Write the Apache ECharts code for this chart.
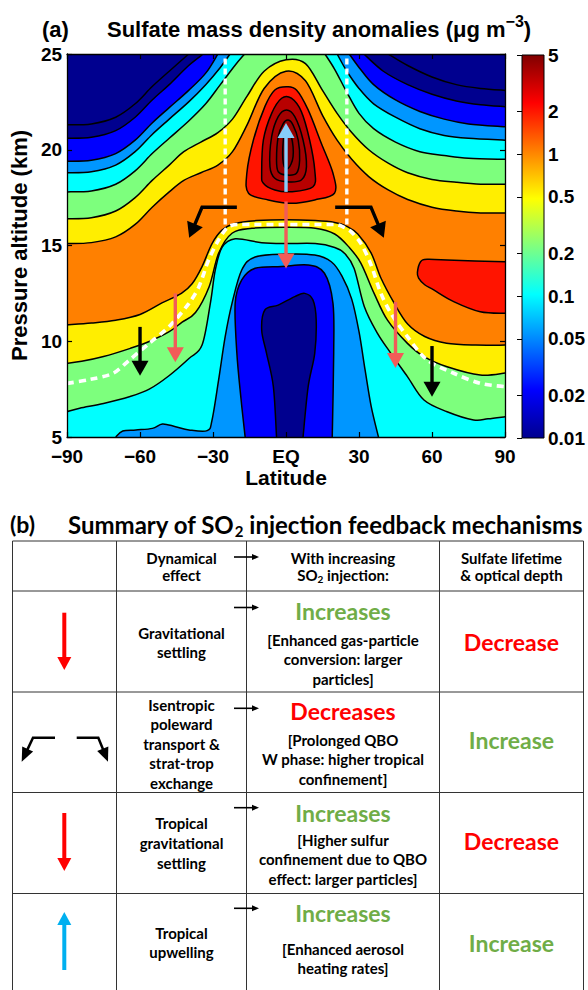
<!DOCTYPE html>
<html><head><meta charset="utf-8">
<script src="https://cdn.jsdelivr.net/npm/echarts@6/dist/echarts.min.js"></script>
<style>html,body{margin:0;padding:0;background:#fff}#c{width:588px;height:990px}</style>
</head><body><div id="c"></div>
<script>
// ---------------- DATA ----------------
const latTicks = [-90, -60, -30, 0, 30, 60, 90];
const latTickLabels = ['\u221290', '\u221260', '\u221230', 'EQ', '30', '60', '90'];
const altTicks = [5, 10, 15, 20, 25];
const cbTicks = [0.01, 0.02, 0.05, 0.1, 0.2, 0.5, 1, 2, 5];
const cbTickLabels = ['0.01', '0.02', '0.05', '0.1', '0.2', '0.5', '1', '2', '5'];
const contourLevels = [0.01, 0.02, 0.05, 0.1, 0.2, 0.5, 1, 2, 3, 4, 5, 6];

// upper (stratospheric) contours, [lat, alt km]
const upperA_L = [[-90,21.3],[-80,21.35],[-70,21.7],[-62,22.4],[-55,23.3],[-48,24.1],[-40,25]];
const upperA_R = [[42,25],[50,24.4],[60,23.8],[70,23.4],[80,23.2],[90,23.1]];
const upperB_L = [[-90,20.6],[-80,20.65],[-70,21.0],[-62,21.7],[-55,22.6],[-48,23.4],[-40,24.4],[-34,25]];
const upperB_R = [[32,25],[40,24.1],[50,23.4],[60,22.9],[70,22.55],[80,22.35],[90,22.25]];
const upperC_L = [[-90,19.4],[-80,19.45],[-70,19.8],[-62,20.5],[-55,21.4],[-48,22.2],[-40,23.1],[-33,24.0],[-28,25]];
const upperC_R = [[26,25],[30,24.3],[36,23.4],[45,22.6],[55,22.0],[65,21.6],[75,21.35],[90,21.2]];
const upperD_L = [[-90,18.8],[-80,18.85],[-70,19.2],[-62,19.9],[-55,20.8],[-48,21.6],[-40,22.5],[-33,23.4],[-27,24.3],[-23,25]];
const upperD_R = [[21,25],[25,24.1],[30,23.2],[36,22.4],[45,21.7],[55,21.1],[65,20.75],[75,20.6],[90,20.5]];
const upperE_L = [[-90,17.8],[-80,17.85],[-70,18.2],[-62,18.9],[-55,19.8],[-48,20.6],[-40,21.5],[-33,22.4],[-27,23.4],[-21,24.4],[-17,25]];
const upperE_R = [[16,25],[20,24.2],[25,23.0],[30,21.9],[36,21.1],[45,20.4],[55,19.9],[65,19.7],[75,19.55],[90,19.5]];
const upperF = [[-90,16.4],[-80,16.45],[-70,16.8],[-62,17.5],[-55,18.4],[-48,19.2],[-42,19.9],[-35,20.4],[-28,20.9],[-22,21.6],[-16,22.8],[-9,24.1],[0,24.7],[8,24.5],[15,23.1],[21,21.9],[27,20.9],[34,20.0],[42,19.3],[50,18.8],[60,18.45],[70,18.3],[80,18.2],[90,18.2]];
const upperG = [[-90,15.1],[-80,15.15],[-70,15.45],[-62,16.1],[-55,17.0],[-48,17.8],[-42,18.4],[-35,18.8],[-28,19.2],[-22,19.9],[-16,21.3],[-9,23.2],[0,24.1],[8,23.6],[15,21.8],[21,20.5],[27,19.5],[34,18.6],[42,17.9],[50,17.4],[60,17.0],[70,16.8],[80,16.7],[90,16.7]];

// lower (tropospheric) contours
const lowerG = [[-90,10.85],[-80,10.95],[-70,11.1],[-60,11.4],[-51,12.0],[-43,12.5],[-38.6,13.0],[-34.5,13.9],[-30.4,15.1],[-26.3,15.8],[-21,16.15],[-12,16.3],[0,16.35],[12,16.3],[20,16.2],[25,16.0],[29.5,15.6],[35,14.6],[39,13.3],[44.4,12.0],[50,10.9],[57,10.25],[66,9.9],[78,9.8],[90,9.8]];
const lowerF = [[-90,8.85],[-84,8.95],[-75,9.2],[-64,9.63],[-56,10.0],[-48,10.5],[-42.7,11.0],[-37.2,11.5],[-31.6,12.85],[-27.7,14.59],[-22.2,15.64],[-14,15.9],[0,15.95],[12,15.9],[20,15.6],[26,14.9],[30.8,14.07],[36.2,12.5],[41.7,11.1],[49.9,9.89],[56.7,9.2],[66.2,8.67],[79.8,8.24],[90,8.34]];
const lowerE = [[-90,6.32],[-84.8,6.5],[-75,6.75],[-64.4,7.1],[-56.2,7.5],[-48.1,8.2],[-39.9,9.1],[-34.5,9.8],[-31.1,11.98],[-29.1,13.7],[-26.3,14.9],[-20.9,15.35],[-10,15.15],[0,15.1],[12,15.1],[20,14.9],[24,14.6],[28,13.8],[32.2,11.8],[37.6,10.41],[43.1,9.37],[49.9,8.15],[56.7,6.93],[66.2,6.32],[77.1,5.89],[83,5.95],[90,6.06]];
const lowerD = [[-70,5],[-67.1,5.31],[-61.7,5.37],[-54.9,5.45],[-50.8,5.68],[-45.4,5.54],[-39.9,5.37],[-32.4,5.33],[-30.4,5.89],[-27.7,7.98],[-25,10.24],[-22.2,11.98],[-18.2,13.72],[-12.7,14.4],[0,14.55],[11.8,14.5],[18.6,14.15],[23,13.4],[27,12.2],[30,10.5],[32.5,8.5],[35,6.6],[38,5]];
const lowerC = [[-16.8,5],[-18.5,7],[-20.2,9.37],[-20.9,11.98],[-18.2,13.2],[-12.7,13.81],[-1.8,13.9],[9.1,13.98],[15.8,13.55],[19.3,11.98],[19.6,9.4],[19,5]];
const lowerB = [[-3.9,5],[-5.2,7.63],[-8.0,9.37],[-10.0,10.59],[-8.7,11.63],[-3.2,11.89],[3.6,12.33],[7.7,12.5],[11.1,12.15],[12.4,11.11],[11.8,9.37],[9.1,7.63],[7.0,5]];

// closed maxima
const blobNH = [[90,14.15],[66.2,14.24],[58,14.28],[55.3,14.15],[54,13.6],[54.5,13.3],[57,12.95],[60.7,12.68],[68.9,12.07],[79.8,11.54],[90,11.46]];
const blobEq2 = [[-15.4,17.73],[-16.1,18.77],[-13.4,20.51],[-8.7,22.25],[-4.6,23.12],[0.2,23.29],[4.3,23.12],[9.1,22.08],[14.5,20.34],[19.3,18.77],[19.9,17.73],[11.8,17.38],[2.2,17.2],[-7.3,17.38]];
const blobEq3 = [[-10,18.77],[-9.3,20.51],[-5.9,21.9],[-1.8,22.69],[2.2,22.69],[6.3,21.99],[9.7,20.51],[11.8,18.94],[11.1,18.07],[2.2,17.81],[-4.6,17.9],[-9.3,18.25]];
const blobEq4 = [[-6.6,19.12],[-5.9,20.68],[-3.2,21.73],[0.2,22.08],[3.6,21.73],[7.0,20.51],[8.4,19.12],[6.3,18.42],[0.2,18.33],[-4.6,18.51]];
const blobEq5 = [[-3.9,19.46],[-3.2,20.68],[-1.1,21.38],[0.9,21.55],[2.9,21.29],[5.0,20.51],[5.6,19.46],[4.3,18.77],[0.2,18.68],[-3.2,18.85]];
const blobEq6 = [[-1.1,20.51],[0.2,21.03],[2.2,20.68],[2.9,19.64],[0.9,19.03],[-1.1,19.29]];

// tropopause and tropical pipe
const tropopause = [[-90,7.8],[-80.7,8.0],[-71,8.33],[-64.4,9.02],[-56.2,9.89],[-48.1,10.76],[-39.9,11.98],[-35.8,12.85],[-31.8,14.24],[-27.7,15.29],[-24,15.95],[-20,16.1],[0,16.1],[20,16.1],[23,16.0],[26.5,15.75],[30.8,15.1],[34.9,14.0],[39,12.5],[43.1,11.46],[49.9,10.24],[58,9.02],[68.9,8.33],[79.8,7.8],[90,7.63]];
const pipeSouth = [[-25,16.1],[-25,25]];
const pipeNorth = [[25,16.1],[25,25]];

// transport arrows [lat, alt]
const upwellingArrow = [[0,17.8],[0,21.4]];
const tropSettlingArrow = [[0,17.3],[0,13.8]];
const midSettlingArrows = [[[-45.5,12.5],[-45.5,8.9]], [[45,12.05],[45,8.6]]];
const stExchangeArrows = [[[-60,10.75],[-60,8.2]], [[60,9.75],[60,7.1]]];
const polewardArrows = [[[-20.2,17],[-34.5,17],[-39.8,15.4]], [[20.2,17],[34.9,17],[40.2,15.4]]];

// table (b)
const tableHeader = [['Dynamical', 'effect'], ['With increasing', 'SO\u2082 injection:'], ['Sulfate lifetime', '& optical depth']];
const tableEffects = [['Gravitational', 'settling'], ['Isentropic', 'poleward', 'transport &', 'strat-trop', 'exchange'], ['Tropical', 'gravitational', 'settling'], ['Tropical', 'upwelling']];
const tableChange = ['Increases', 'Decreases', 'Increases', 'Increases'];
const tableDetails = [['[Enhanced gas-particle', 'conversion: larger', 'particles]'], ['[Prolonged QBO', 'W phase: higher tropical', 'confinement]'], ['[Higher sulfur', 'confinement due to QBO', 'effect: larger particles]'], ['[Enhanced aerosol', 'heating rates]']];
const tableLifetime = ['Decrease', 'Increase', 'Decrease', 'Increase'];

// ---------------- STYLE / LAYOUT ----------------
const FA = '"Liberation Sans", Arial, Helvetica, sans-serif';
const FB = 'Lato, "Open Sans", sans-serif';
const XMIN = -90, XMAX = 90, YMIN = 5, YMAX = 25;
const CB_MIN = Math.log10(0.01), CB_MAX = Math.log10(5);
const bandColor = {0:'#00008f',0.01:'#00008f',0.02:'#0000ff',0.05:'#0096ff',0.1:'#00ffff',0.2:'#7dff7d',0.5:'#ffee00',1:'#ff8000',2:'#ff1400',3:'#b80000',4:'#a40000',5:'#960000',6:'#8a0000'};
const GREEN = '#70ad47', RED = '#ff0000';

const fillLayers = [
  {c: upperG, side: 'above', band: 0.5}, {c: upperF, side: 'above', band: 0.2},
  {c: upperE_L, side: 'above', band: 0.1}, {c: upperE_R, side: 'above', band: 0.1},
  {c: upperD_L, side: 'above', band: 0.05}, {c: upperD_R, side: 'above', band: 0.05},
  {c: upperC_L, side: 'above', band: 0.02}, {c: upperC_R, side: 'above', band: 0.02},
  {c: upperB_L, side: 'above', band: 0.01}, {c: upperB_R, side: 'above', band: 0.01},
  {c: upperA_L, side: 'above', band: 0}, {c: upperA_R, side: 'above', band: 0},
  {c: lowerG, side: 'below', band: 0.5}, {c: lowerF, side: 'below', band: 0.2},
  {c: lowerE, side: 'below', band: 0.1}, {c: lowerD, side: 'below', band: 0.05},
  {c: lowerC, side: 'below', band: 0.02}, {c: lowerB, side: 'below', band: 0.01},
  {c: blobNH, side: 'edge', band: 2},
  {c: blobEq2, side: 'loop', band: 2}, {c: blobEq3, side: 'loop', band: 3},
  {c: blobEq4, side: 'loop', band: 4}, {c: blobEq5, side: 'loop', band: 5},
  {c: blobEq6, side: 'loop', band: 6}
];

function crPath(P, closed) {
  const n = P.length;
  const g = i => closed ? P[(i + n) % n] : P[Math.max(0, Math.min(n - 1, i))];
  let d = 'M' + P[0][0].toFixed(2) + ',' + P[0][1].toFixed(2);
  const segs = closed ? n : n - 1;
  for (let i = 0; i < segs; i++) {
    const p0 = g(i - 1), p1 = g(i), p2 = g(i + 1), p3 = g(i + 2);
    const t = 1 / 6;
    const c1 = [p1[0] + (p2[0] - p0[0]) * t, p1[1] + (p2[1] - p0[1]) * t];
    const c2 = [p2[0] - (p3[0] - p1[0]) * t, p2[1] - (p3[1] - p1[1]) * t];
    d += ' C' + c1[0].toFixed(2) + ',' + c1[1].toFixed(2) + ' ' + c2[0].toFixed(2) + ',' + c2[1].toFixed(2) + ' ' + p2[0].toFixed(2) + ',' + p2[1].toFixed(2);
  }
  if (closed) d += ' Z';
  return d;
}
function layerPaths(L, api) {
  const P = L.c.map(p => api.coord(p));
  if (L.side === 'loop') { const d = crPath(P, true); return {fill: d, stroke: d}; }
  const line = crPath(P, false);
  const first = L.c[0], last = L.c[L.c.length - 1];
  const extra = [];
  if (L.side === 'above') {
    if (last[0] >= XMAX && last[1] < YMAX) extra.push([XMAX, YMAX]);
    if (first[0] <= XMIN && first[1] < YMAX) extra.push([XMIN, YMAX]);
  } else if (L.side === 'below') {
    if (last[0] >= XMAX && last[1] > YMIN) extra.push([XMAX, YMIN]);
    if (first[0] <= XMIN && first[1] > YMIN) extra.push([XMIN, YMIN]);
  }
  let fill = line;
  extra.forEach(e => { const q = api.coord(e); fill += ' L' + q[0].toFixed(2) + ',' + q[1].toFixed(2); });
  fill += ' Z';
  return {fill, stroke: line};
}

function arrowEls(P, shaftW, headW, headL, color) {
  const n = P.length, tip = P[n - 1], prev = P[n - 2];
  let dx = tip[0] - prev[0], dy = tip[1] - prev[1];
  const len = Math.hypot(dx, dy); dx /= len; dy /= len;
  const base = [tip[0] - dx * headL, tip[1] - dy * headL];
  const inner = [tip[0] - dx * (headL - 2), tip[1] - dy * (headL - 2)];
  const px = -dy, py = dx;
  return [
    {type: 'polyline', shape: {points: P.slice(0, n - 1).concat([inner])}, style: {stroke: color, lineWidth: shaftW, fill: 'none', lineJoin: 'miter'}},
    {type: 'polygon', shape: {points: [tip, [base[0] + px * headW / 2, base[1] + py * headW / 2], [base[0] - px * headW / 2, base[1] - py * headW / 2]]}, style: {fill: color}}
  ];
}

const plotArrows = [
  {p: upwellingArrow, color: '#87cefa'},
  {p: tropSettlingArrow, color: '#f25c58'},
  ...midSettlingArrows.map(p => ({p, color: '#f25c58'})),
  ...stExchangeArrows.map(p => ({p, color: '#000'})),
  ...polewardArrows.map(p => ({p, color: '#000'}))
];

const axisCommon = {
  axisLine: {show: true, onZero: false, lineStyle: {color: '#000', width: 1.3}},
  axisTick: {show: true, inside: true, length: 5, lineStyle: {color: '#000', width: 1.2}},
  splitLine: {show: false}, z: 10
};
const tickFont = {fontSize: 19, fontWeight: 'bold', fontFamily: FA, color: '#000'};

// ---------------- TABLE GRAPHICS ----------------
const T = {xs: [12.5, 116.5, 246.5, 439.5, 583.5], ys: [541, 591, 692, 792.5, 893.5], bottom: 995};
const colC = [64.5, 181.5, 343, 511.5];
const headerY = [558, 575];
const changeY = [610.7, 710.7, 813.3, 913.3];
const effectY = [[632.7, 651.7], [705, 724.3, 744, 763.3, 782.7], [823.3, 843.3, 862.7], [933.3, 952.3]];
const detailY = [[640, 659.3, 679.3], [740, 759.3, 778.7], [840, 859.3, 879], [949.3, 968.3]];
const lifetimeY = [642.3, 740, 841, 943.3];
const smallArrowY = [557, 607.5, 708.3, 807.7, 908.3];

const G = [];
function txt(x, y, text, size, color, extra) {
  G.push(Object.assign({type: 'text', x, y, style: Object.assign({text, fontSize: size, fontWeight: 'bold', fontFamily: FB, fill: color || '#000', align: 'center', verticalAlign: 'middle'}, extra || {})}));
}
// titles
G.push({type: 'text', x: 42, y: 29, style: {text: '(a)', fontSize: 22, fontWeight: 'bold', fontFamily: FA, fill: '#000', verticalAlign: 'middle'}});
G.push({type: 'text', x: 107, y: 29, style: {text: '{n|Sulfate mass density anomalies (\u03bcg m}{s|\u22123}{n|)}', verticalAlign: 'middle',
  rich: {n: {fontSize: 22, fontWeight: 'bold', fontFamily: FA, fill: '#000', lineHeight: 32}, s: {fontSize: 16, fontWeight: 'bold', fontFamily: FA, fill: '#000', lineHeight: 13, verticalAlign: 'top'}}}});
G.push({type: 'text', x: 10, y: 524, style: {text: '(b)', fontSize: 23, fontWeight: 'bold', fontFamily: FB, fill: '#000', verticalAlign: 'middle'}});
G.push({type: 'text', x: 68, y: 524, style: {text: '{n|Summary of SO}{s|2}{n| injection feedback mechanisms}', verticalAlign: 'middle',
  rich: {n: {fontSize: 24, fontWeight: 'bold', fontFamily: FB, fill: '#000', lineHeight: 28}, s: {fontSize: 15, fontWeight: 'bold', fontFamily: FB, fill: '#000', lineHeight: 17, verticalAlign: 'bottom'}}}});
// grid lines
T.ys.forEach(y => G.push({type: 'line', shape: {x1: T.xs[0], y1: y, x2: T.xs[4], y2: y}, style: {stroke: '#333', lineWidth: 1}}));
T.xs.forEach(x => G.push({type: 'line', shape: {x1: x, y1: T.ys[0], x2: x, y2: T.bottom}, style: {stroke: '#333', lineWidth: 1}}));
// header
tableHeader.forEach((lines, ci) => lines.forEach((s, li) => {
  if (s.indexOf('\u2082') >= 0) {
    G.push({type: 'text', x: colC[ci + 1], y: headerY[li], style: {text: '{n|SO}{s|2}{n| injection:}', align: 'center', verticalAlign: 'middle',
      rich: {n: {fontSize: 15, fontWeight: 'bold', fontFamily: FB, fill: '#000', lineHeight: 18}, s: {fontSize: 10, fontWeight: 'bold', fontFamily: FB, fill: '#000', lineHeight: 10, verticalAlign: 'bottom'}}}});
  } else txt(colC[ci + 1], headerY[li], s, 15);
}));
tableEffects.forEach((lines, r) => lines.forEach((s, li) => txt(colC[1], effectY[r][li], s, 15)));
tableChange.forEach((s, r) => txt(colC[2], changeY[r], s, 23, s.indexOf('Inc') === 0 ? GREEN : RED));
tableDetails.forEach((lines, r) => lines.forEach((s, li) => txt(colC[2], detailY[r][li], s, 15)));
tableLifetime.forEach((s, r) => txt(colC[3], lifetimeY[r], s, 23, s.indexOf('Inc') === 0 ? GREEN : RED));
smallArrowY.forEach(y => G.push(...arrowEls([[234, y], [259, y]], 1.6, 6, 7, '#000')));
// column-1 symbols
G.push(...arrowEls([[64.3, 612.7], [64.3, 670]], 4, 14, 13, RED));
G.push(...arrowEls([[55, 737.7], [33, 737.7], [21.7, 761.7]], 2.5, 12, 14, '#000'));
G.push(...arrowEls([[76.7, 737.7], [98.3, 737.7], [108, 761.7]], 2.5, 12, 14, '#000'));
G.push(...arrowEls([[64.3, 813], [64.3, 871]], 4, 14, 13, RED));
G.push(...arrowEls([[64.3, 970], [64.3, 912]], 4, 14, 13, '#00b0f0'));

// ---------------- CHART ----------------
const chart = echarts.init(document.getElementById('c'), null, {renderer: 'svg', width: 588, height: 990});
const jetStops = [{offset: 0, color: '#00008f'}, {offset: 0.125, color: '#0000ff'}, {offset: 0.375, color: '#00ffff'}, {offset: 0.625, color: '#ffff00'}, {offset: 0.875, color: '#ff0000'}, {offset: 1, color: '#800000'}];

chart.setOption({
  animation: false,
  grid: [
    {left: 64, top: 54, width: 441, height: 383, show: true, backgroundColor: bandColor[1], borderWidth: 0},
    {left: 522, top: 55, width: 22, height: 383}
  ],
  xAxis: [
    Object.assign({gridIndex: 0, type: 'value', min: XMIN, max: XMAX, interval: 30, position: 'bottom',
      axisLabel: Object.assign({margin: 10, formatter: v => latTickLabels[latTicks.indexOf(Math.round(v))]}, tickFont),
      name: 'Latitude', nameLocation: 'middle', nameGap: 26, nameTextStyle: {fontSize: 21, fontWeight: 'bold', fontFamily: FA, color: '#000'}}, axisCommon),
    Object.assign({gridIndex: 0, type: 'value', min: XMIN, max: XMAX, interval: 30, position: 'top', axisLabel: {show: false}}, axisCommon),
    {gridIndex: 1, type: 'value', min: 0, max: 1, show: false}
  ],
  yAxis: [
    Object.assign({gridIndex: 0, type: 'value', min: YMIN, max: YMAX, interval: 5, position: 'left',
      axisLabel: Object.assign({margin: 5}, tickFont),
      name: 'Pressure altitude (km)', nameLocation: 'middle', nameGap: 32, nameRotate: 90,
      nameTextStyle: {fontSize: 22, fontWeight: 'bold', fontFamily: FA, color: '#000'}}, axisCommon),
    Object.assign({gridIndex: 0, type: 'value', min: YMIN, max: YMAX, interval: 5, position: 'right', axisLabel: {show: false}}, axisCommon),
    {gridIndex: 1, type: 'value', min: CB_MIN, max: CB_MAX, position: 'right', z: 10,
      axisLine: {show: false}, splitLine: {show: false},
      axisTick: {show: true, inside: true, length: 5, lineStyle: {color: '#000', width: 1}, customValues: cbTicks.map(Math.log10)},
      axisLabel: Object.assign({margin: 4, customValues: cbTicks.map(Math.log10),
        formatter: v => { const i = cbTicks.findIndex(t => Math.abs(Math.log10(t) - v) < 1e-6); return i >= 0 ? cbTickLabels[i] : ''; }}, tickFont)}
  ],
  series: [
    {type: 'custom', name: 'fills', xAxisIndex: 0, yAxisIndex: 0, clip: true, z: 2, silent: true,
      data: fillLayers.map((l, i) => [l.c[0][0], l.c[0][1], i]), encode: {x: 0, y: 1},
      renderItem: (params, api) => {
        const L = fillLayers[params.dataIndex];
        const p = layerPaths(L, api);
        return {type: 'path', z2: params.dataIndex, shape: {pathData: p.fill}, style: {fill: bandColor[L.band], stroke: 'none'}};
      }},
    {type: 'custom', name: 'contours', xAxisIndex: 0, yAxisIndex: 0, clip: true, z: 3, silent: true,
      data: fillLayers.map((l, i) => [l.c[0][0], l.c[0][1], i]), encode: {x: 0, y: 1},
      renderItem: (params, api) => {
        const L = fillLayers[params.dataIndex];
        const p = layerPaths(L, api);
        return {type: 'path', shape: {pathData: p.stroke}, style: {fill: 'none', stroke: '#000', lineWidth: 1.5}};
      }},
    {type: 'line', name: 'tropopause', xAxisIndex: 0, yAxisIndex: 0, data: tropopause, symbol: 'none', smooth: 0.3, z: 4, silent: true,
      lineStyle: {color: '#fff', width: 3.6, type: [7, 5]}},
    {type: 'line', name: 'pipeS', xAxisIndex: 0, yAxisIndex: 0, data: pipeSouth, symbol: 'none', z: 4, silent: true,
      lineStyle: {color: '#fff', width: 3.4, type: [6, 4]}},
    {type: 'line', name: 'pipeN', xAxisIndex: 0, yAxisIndex: 0, data: pipeNorth, symbol: 'none', z: 4, silent: true,
      lineStyle: {color: '#fff', width: 3.4, type: [6, 4]}},
    {type: 'custom', name: 'arrows', xAxisIndex: 0, yAxisIndex: 0, z: 5, silent: true,
      data: plotArrows.map((a, i) => [a.p[0][0], a.p[0][1], i]), encode: {x: 0, y: 1},
      renderItem: (params, api) => {
        const a = plotArrows[params.dataIndex];
        const P = a.p.map(q => api.coord(q));
        return {type: 'group', children: arrowEls(P, 3.4, 17, 15, a.color)};
      }},
    {type: 'custom', name: 'colorbar', xAxisIndex: 2, yAxisIndex: 2, z: 2, silent: true,
      data: [[0, CB_MIN]], encode: {x: 0, y: 1},
      renderItem: (params, api) => {
        const a = api.coord([0, CB_MAX]), b = api.coord([1, CB_MIN]);
        return {type: 'rect', shape: {x: a[0], y: a[1], width: b[0] - a[0], height: b[1] - a[1]},
          style: {fill: new echarts.graphic.LinearGradient(0, 1, 0, 0, jetStops), stroke: '#000', lineWidth: 1}};
      }}
  ],
  graphic: {elements: G}
});
</script></body></html>
